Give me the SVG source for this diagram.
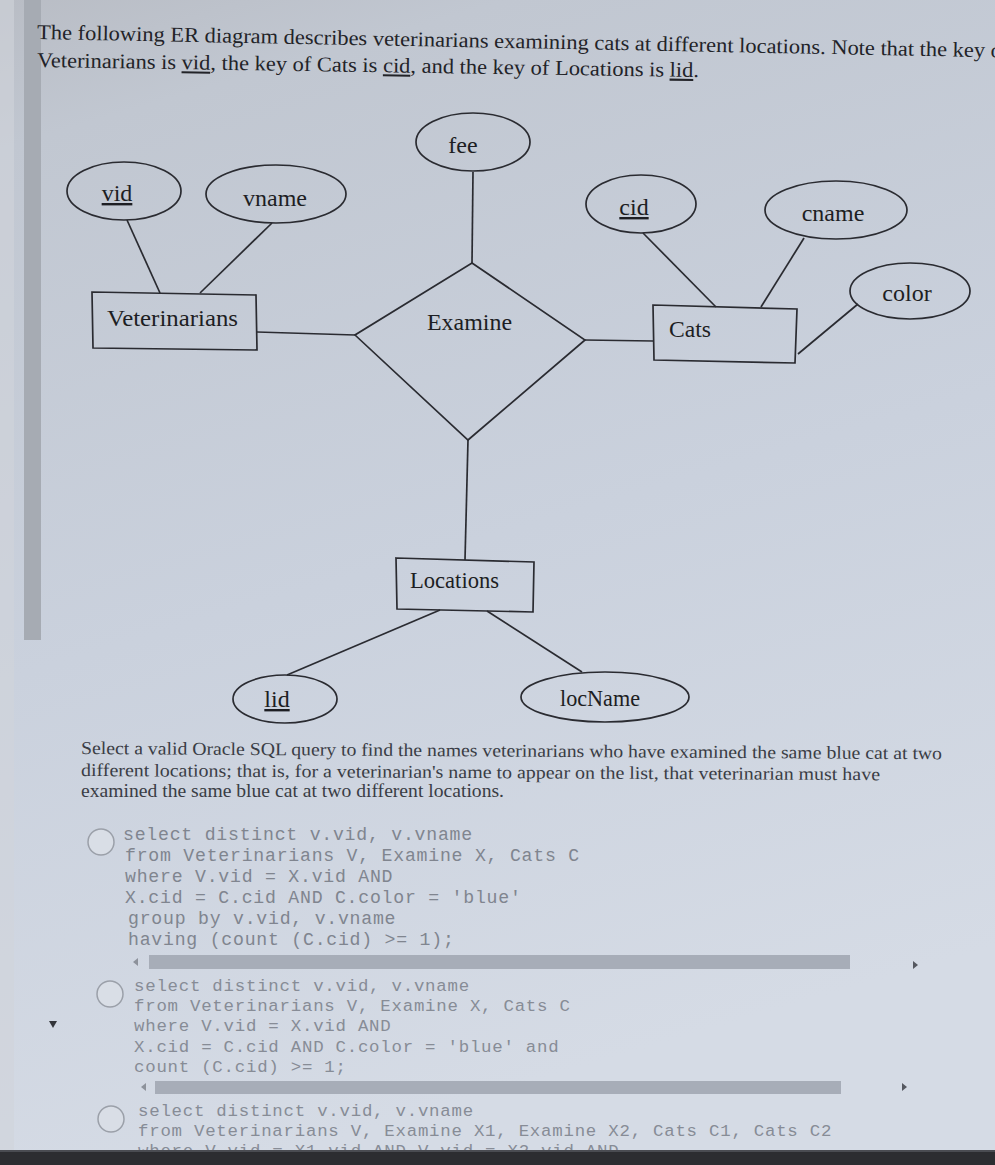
<svg xmlns="http://www.w3.org/2000/svg" width="995" height="1165" viewBox="0 0 995 1165">
<defs>
<linearGradient id="bg" x1="0" y1="0" x2="0.25" y2="1">
<stop offset="0" stop-color="#b9bdc5"/>
<stop offset="0.12" stop-color="#c1c7d1"/>
<stop offset="0.55" stop-color="#cad1dd"/>
<stop offset="1" stop-color="#d5dbe5"/>
</linearGradient>
<style>
.ln{stroke:#2a2b31;stroke-width:1.7;fill:none}
.sh{stroke:#2a2b31;stroke-width:1.7;fill:none}
.dt{font-family:"Liberation Serif","Times New Roman",serif;font-size:24px;fill:#1d1e23}
.ti{font-family:"Liberation Serif","Times New Roman",serif;font-size:21px;fill:#222328}
.qt{font-family:"Liberation Serif","Times New Roman",serif;font-size:18px;fill:#3a3d45}
.c1{font-family:"Liberation Mono","Courier New",monospace;font-size:18.2px;letter-spacing:0.75px;fill:#80858f;white-space:pre}
.c2{font-family:"Liberation Mono","Courier New",monospace;font-size:17.4px;letter-spacing:0.76px;fill:#878c96;white-space:pre}
.rad{fill:#d9dee6;stroke:#9ba0a9;stroke-width:1.5}
.sb{fill:#a7adb8}
.u{text-decoration:underline}
</style>
</defs>
<rect x="0" y="0" width="995" height="1165" fill="url(#bg)"/>
<rect x="0" y="0" width="14" height="1150" fill="#d0d4da" opacity="0.6"/>
<rect x="24" y="0" width="17" height="640" fill="#a6abb3"/>

<g id="title">
<text class="ti" x="37" y="39" transform="rotate(1.09 37 39)" textLength="965" lengthAdjust="spacingAndGlyphs">The following ER diagram describes veterinarians examining cats at different locations.  Note that the key o</text>
<text class="ti" x="37" y="67" transform="rotate(0.87 37 67)" textLength="662" lengthAdjust="spacingAndGlyphs">Veterinarians is <tspan class="u">vid</tspan>, the key of Cats is <tspan class="u">cid</tspan>, and the key of Locations is <tspan class="u">lid</tspan>.</text>
</g>

<g id="connectors">
<line class="ln" x1="127" y1="220" x2="160" y2="293"/>
<line class="ln" x1="272" y1="223" x2="200" y2="293"/>
<line class="ln" x1="473" y1="172" x2="472" y2="263"/>
<line class="ln" x1="257" y1="332" x2="355" y2="335"/>
<line class="ln" x1="585" y1="340" x2="653" y2="341"/>
<line class="ln" x1="643" y1="233" x2="716" y2="307"/>
<line class="ln" x1="804" y1="238" x2="761" y2="307"/>
<line class="ln" x1="858" y1="304" x2="798" y2="354"/>
<line class="ln" x1="468" y1="440" x2="465" y2="560"/>
<line class="ln" x1="440" y1="610" x2="287" y2="675"/>
<line class="ln" x1="487" y1="611" x2="582" y2="672"/>
</g>

<g id="vid">
<ellipse class="sh" cx="124" cy="191" rx="57" ry="29"/>
<text class="dt u" x="117" y="201" text-anchor="middle">vid</text>
</g>
<g id="vname">
<ellipse class="sh" cx="276" cy="194" rx="70" ry="29"/>
<text class="dt" x="275" y="206" text-anchor="middle">vname</text>
</g>
<g id="fee">
<ellipse class="sh" cx="473" cy="142" rx="57" ry="29"/>
<text class="dt" x="463" y="153" text-anchor="middle">fee</text>
</g>
<g id="Veterinarians">
<polygon class="sh" points="92,292 256,295 257,350 93,348"/>
<text class="dt" x="107" y="326" textLength="131" lengthAdjust="spacingAndGlyphs">Veterinarians</text>
</g>
<g id="Examine">
<polygon class="sh" points="472,263 585,340 468,440 355,335"/>
<text class="dt" x="427" y="330" textLength="85" lengthAdjust="spacingAndGlyphs">Examine</text>
</g>
<g id="cid">
<ellipse class="sh" cx="641" cy="204" rx="55" ry="29"/>
<text class="dt u" x="634" y="215" text-anchor="middle">cid</text>
</g>
<g id="cname">
<ellipse class="sh" cx="836" cy="210" rx="71" ry="29"/>
<text class="dt" x="833" y="221" text-anchor="middle">cname</text>
</g>
<g id="color">
<ellipse class="sh" cx="910" cy="291" rx="60" ry="28"/>
<text class="dt" x="907" y="301" text-anchor="middle">color</text>
</g>
<g id="Cats">
<polygon class="sh" points="653,305 797,309 795,363 654,360"/>
<text class="dt" x="669" y="337" textLength="42" lengthAdjust="spacingAndGlyphs">Cats</text>
</g>
<g id="Locations">
<polygon class="sh" points="396,558 534,562 533,612 397,609"/>
<text class="dt" x="410" y="588" textLength="89" lengthAdjust="spacingAndGlyphs">Locations</text>
</g>
<g id="lid">
<ellipse class="sh" cx="285" cy="699" rx="52" ry="24"/>
<text class="dt u" x="277" y="707" text-anchor="middle">lid</text>
</g>
<g id="locName">
<ellipse class="sh" cx="605" cy="697" rx="84" ry="25"/>
<text class="dt" x="600" y="706" text-anchor="middle" textLength="80" lengthAdjust="spacingAndGlyphs">locName</text>
</g>

<g id="question">
<text class="qt" x="81" y="754" transform="rotate(0.35 81 754)" textLength="861" lengthAdjust="spacingAndGlyphs">Select a valid Oracle SQL query to find the names veterinarians who have examined the same blue cat at two</text>
<text class="qt" x="81" y="776" transform="rotate(0.3 81 776)" textLength="799" lengthAdjust="spacingAndGlyphs">different locations; that is, for a veterinarian's name to appear on the list, that veterinarian must have</text>
<text class="qt" x="81" y="797" textLength="423" lengthAdjust="spacingAndGlyphs">examined the same blue cat at two different locations.</text>
</g>

<g id="option1">
<circle class="rad" cx="101" cy="842" r="13"/>
<text class="c1" x="123" y="840">select distinct v.vid, v.vname</text>
<text class="c1" x="125" y="861">from Veterinarians V, Examine X, Cats C</text>
<text class="c1" x="125" y="882">where V.vid = X.vid AND</text>
<text class="c1" x="125" y="903">X.cid = C.cid AND C.color = 'blue'</text>
<text class="c1" x="128" y="924">group by v.vid, v.vname</text>
<text class="c1" x="128" y="945">having (count (C.cid) &gt;= 1);</text>
<rect class="sb" x="149" y="955" width="701" height="14"/>
<polygon points="138,958 138,966 133,962" fill="#8d929b"/>
<polygon points="913,961 913,969 918,965" fill="#555860"/>
</g>

<g id="option2">
<circle class="rad" cx="110" cy="994" r="13"/>
<text class="c2" x="134" y="991">select distinct v.vid, v.vname</text>
<text class="c2" x="134" y="1011">from Veterinarians V, Examine X, Cats C</text>
<text class="c2" x="134" y="1031">where V.vid = X.vid AND</text>
<text class="c2" x="134" y="1052">X.cid = C.cid AND C.color = 'blue' and</text>
<text class="c2" x="134" y="1072">count (C.cid) &gt;= 1;</text>
<rect class="sb" x="155" y="1081" width="686" height="13"/>
<polygon points="146,1083 146,1091 141,1087" fill="#8d929b"/>
<polygon points="902,1083 902,1091 907,1087" fill="#555860"/>
</g>

<polygon points="49,1021 57,1021 53,1028" fill="#33353a"/>

<g id="option3">
<circle class="rad" cx="111" cy="1119" r="13"/>
<text class="c2" x="138" y="1116">select distinct v.vid, v.vname</text>
<text class="c2" x="138" y="1136">from Veterinarians V, Examine X1, Examine X2, Cats C1, Cats C2</text>
<text class="c2" x="138" y="1156">where V.vid = X1.vid AND V.vid = X2.vid AND</text>
</g>

<rect x="0" y="1150" width="995" height="15" fill="#2c2d31"/>
<rect x="0" y="1150" width="995" height="2" fill="#4a4c52"/>
</svg>
